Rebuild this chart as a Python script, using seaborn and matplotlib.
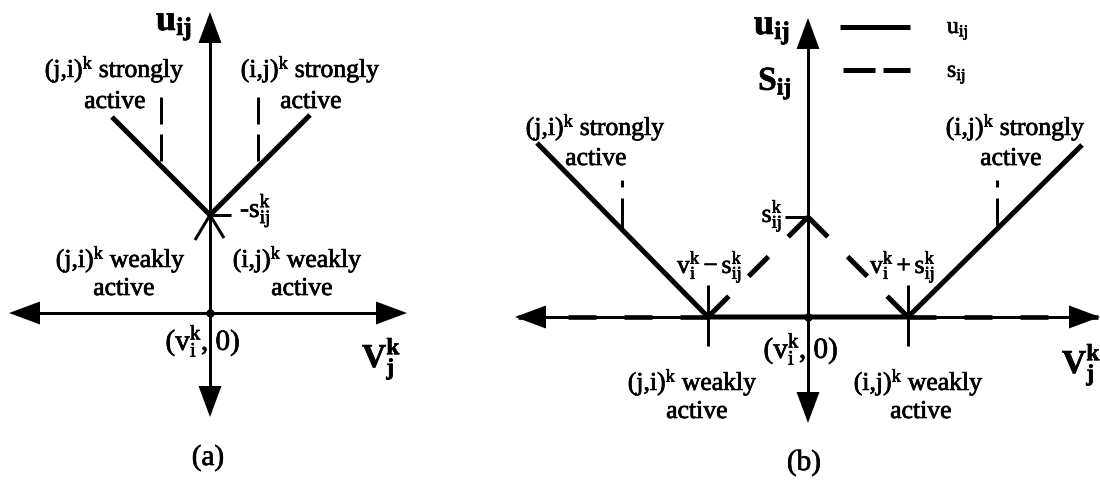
import numpy as np
import matplotlib
matplotlib.use("Agg")
import matplotlib.pyplot as plt
import matplotlib.patheffects as pe
import seaborn as sns

# ---------------------------------------------------------------
# Panel (a): u_ij against v_j^k, origin at (v_i^k, 0), unit = s_ij^k
# ---------------------------------------------------------------
a_u_v = [-0.98, 0.0, 1.00]          # breakpoints of u_ij
a_u = [1.96, 0.98, 1.98]
a_strong_v = [-0.49, 0.48]          # strongly-active markers
a_strong_top = 2.16
a_weak_v = [-0.15, 0.14]            # short strokes below the kink
a_weak_u = [0.73, 0.75]
a_level_tick = [0.0, 0.21]          # tick for the -s_ij^k level
a_axis_x = [-2.01, 1.97]
a_axis_y = [-1.04, 3.01]

# ---------------------------------------------------------------
# Panel (b): u_ij (solid) and s_ij (dashed) against v_j^k
# ---------------------------------------------------------------
b_u_v = [-2.71, -1.0, 1.0, 2.74]
b_u = [1.74, 0.0, 0.0, 1.72]
b_s_v = [-2.90, -1.0, 0.0, 1.0, 2.90]
b_s = [0.0, 0.0, 1.0, 0.0, 0.0]
b_strong_v = [-1.86, 1.89]
b_strong_top = 1.37
b_vertex_tick = [-0.29, 0.32]
b_level_tick = [-0.23, 0.0]
b_axis_x = [-2.93, 2.92]
b_axis_y = [-1.06, 2.99]
b_legend_x = [0.32, 1.02]
b_legend_y = [2.90, 2.47]

sns.set_style("white")
plt.rcParams["font.family"] = ["Liberation Serif", "DejaVu Serif"]
plt.rcParams["mathtext.fontset"] = "custom"
plt.rcParams["mathtext.rm"] = "Liberation Serif"
plt.rcParams["mathtext.it"] = "Liberation Serif:italic"
plt.rcParams["mathtext.bf"] = "Liberation Serif:bold"
plt.rcParams["mathtext.default"] = "regular"
plt.rcParams["lines.scale_dashes"] = False

PX = 0.72  # points per pixel at 100 dpi
LW_AXIS = 3 * PX
LW_THICK = 5 * PX
HEAVY = [pe.withStroke(linewidth=0.5, foreground="black")]

fig = plt.figure(figsize=(11, 4.86), dpi=100)
ax_a = fig.add_axes([0, 0, 440 / 1100, 1])
ax_b = fig.add_axes([440 / 1100, 0, 660 / 1100, 1])


def seg(ax, xs, ys, lw, ls="-"):
    sns.lineplot(x=list(xs), y=list(ys), ax=ax, color="black", linewidth=lw,
                 linestyle=ls, sort=False, estimator=None, legend=False,
                 solid_capstyle="butt", clip_on=False)


def head(ax, tip, direction, length=0.31, half=0.115):
    d = np.asarray(direction, float)
    d /= np.linalg.norm(d)
    n = np.array([-d[1], d[0]])
    tip = np.asarray(tip, float)
    base = tip - d * length
    pts = np.array([tip, base + n * half, base - n * half])
    ax.fill(pts[:, 0], pts[:, 1], color="black", lw=0, clip_on=False, zorder=5)


def axes_cross(ax, xr, yr):
    seg(ax, [xr[0] + 0.15, xr[1] - 0.15], [0, 0], LW_AXIS)
    seg(ax, [0, 0], [yr[0] + 0.15, yr[1] - 0.15], LW_AXIS)
    head(ax, (xr[0], 0), (-1, 0))
    head(ax, (xr[1], 0), (1, 0))
    head(ax, (0, yr[0]), (0, -1))
    head(ax, (0, yr[1]), (0, 1))
    ax.plot([0], [0], "o", color="black", ms=5, zorder=6)


def label(ax, x, y, s, size=18.5, ha="center"):
    ax.text(x, y, s, fontsize=size, ha=ha, va="baseline", color="black",
            path_effects=HEAVY)


# ---------------- panel (a) ----------------
axes_cross(ax_a, a_axis_x, a_axis_y)
seg(ax_a, a_u_v, a_u, LW_THICK)
for v in a_strong_v:
    seg(ax_a, [v, v], [a_strong_top, a_u[1] + abs(v)], LW_AXIS,
        ls=(0, (27 * PX, 10 * PX)))
for v, u in zip(a_weak_v, a_weak_u):
    seg(ax_a, [0, v], [a_u[1], u], LW_AXIS)
seg(ax_a, a_level_tick, [a_u[1], a_u[1]], LW_AXIS)

label(ax_a, -0.36, 2.83, r"$\mathbf{u}_{\mathbf{ij}}$", size=26)
label(ax_a, -0.95, 2.36, r"(j,i)$^{k}$ strongly")
label(ax_a, -0.95, 2.05, "active")
label(ax_a, 1.01, 2.36, r"(i,j)$^{k}$ strongly")
label(ax_a, 1.01, 2.05, "active")
label(ax_a, 0.30, 0.96, r"-$s_{ij}^{k}$", size=19.5, ha="left")
label(ax_a, -0.89, 0.46, r"(j,i)$^{k}$ weakly")
label(ax_a, -0.86, 0.18, "active")
label(ax_a, 0.88, 0.46, r"(i,j)$^{k}$ weakly")
label(ax_a, 0.92, 0.18, "active")
label(ax_a, -0.07, -0.37, r"($v_{i}^{k}$, 0)", size=21)
label(ax_a, 1.52, -0.54, r"$\mathbf{V}_{\mathbf{j}}^{\mathbf{k}}$", size=24, ha="left")
label(ax_a, -0.02, -1.52, "(a)", size=21)

ax_a.set_xlim(-2.10, 2.30)
ax_a.set_ylim(-1.73, 3.13)

# ---------------- panel (b) ----------------
axes_cross(ax_b, b_axis_x, b_axis_y)
seg(ax_b, b_u_v, b_u, LW_THICK)
dash = (0, (28 * PX, 28 * PX))
# s_ij: flat parts drawn outward from the kinks, the tent outward from its peak
seg(ax_b, [b_s_v[1], b_s_v[0]], [b_s[1], b_s[0]], 4.6 * PX, ls=dash)
seg(ax_b, [b_s_v[3], b_s_v[4]], [b_s[3], b_s[4]], 4.6 * PX, ls=dash)
seg(ax_b, [b_s_v[2], b_s_v[1]], [b_s[2], b_s[1]], LW_THICK, ls=dash)
seg(ax_b, [b_s_v[2], b_s_v[3]], [b_s[2], b_s[3]], LW_THICK, ls=dash)
for v in [b_u_v[1], b_u_v[2]]:
    seg(ax_b, [v, v], b_vertex_tick, LW_AXIS)
for v in b_strong_v:
    seg(ax_b, [v, v], [b_strong_top, abs(v) - b_s[2]], LW_AXIS,
        ls=(0, (7 * PX, 11 * PX, 40 * PX, 2 * PX)))
seg(ax_b, b_level_tick, [b_s[2], b_s[2]], LW_AXIS)

# legend
seg(ax_b, b_legend_x, [b_legend_y[0]] * 2, LW_THICK)
seg(ax_b, [b_legend_x[0] + 0.03, b_legend_x[1]], [b_legend_y[1]] * 2, LW_THICK,
    ls=(0, (32 * PX, 8 * PX)))
label(ax_b, 1.39, 2.84, r"$u_{ij}$", size=17, ha="left")
label(ax_b, 1.39, 2.40, r"$s_{ij}$", size=17, ha="left")

label(ax_b, -0.36, 2.83, r"$\mathbf{u}_{\mathbf{ij}}$", size=26)
label(ax_b, -0.33, 2.27, r"$\mathbf{S}_{\mathbf{ij}}$", size=24)
label(ax_b, -0.25, 0.95, r"$s_{ij}^{k}$", ha="right")
label(ax_b, -2.12, 1.82, r"(j,i)$^{k}$ strongly")
label(ax_b, -2.12, 1.52, "active")
label(ax_b, 2.08, 1.82, r"(i,j)$^{k}$ strongly")
label(ax_b, 2.03, 1.52, "active")
label(ax_b, -0.98, 0.44, r"$v_{i}^{k}-s_{ij}^{k}$")
label(ax_b, 0.95, 0.44, r"$v_{i}^{k}+s_{ij}^{k}$")
label(ax_b, -0.07, -0.41, r"($v_{i}^{k}$, 0)", size=21)
label(ax_b, -1.15, -0.73, r"(j,i)$^{k}$ weakly")
label(ax_b, -1.11, -1.01, "active")
label(ax_b, 1.11, -0.73, r"(i,j)$^{k}$ weakly")
label(ax_b, 1.13, -1.01, "active")
label(ax_b, 2.54, -0.56, r"$\mathbf{V}_{\mathbf{j}}^{\mathbf{k}}$", size=24, ha="left")
label(ax_b, -0.04, -1.53, "(b)", size=21)

ax_b.set_xlim(-3.68, 2.92)
ax_b.set_ylim(-1.69, 3.17)

for ax in (ax_a, ax_b):
    ax.set_axis_off()

fig.savefig("out.png", dpi=100, facecolor="white")
